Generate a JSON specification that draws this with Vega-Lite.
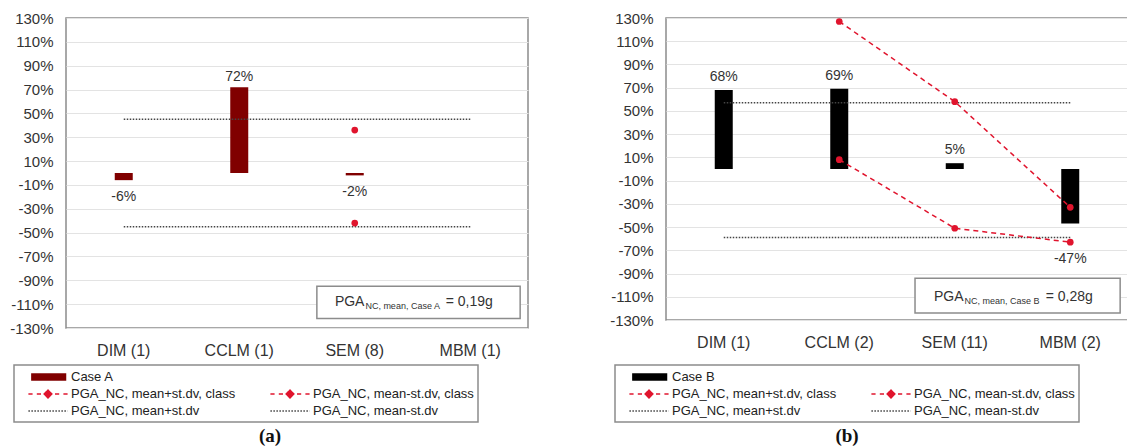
{
  "$schema": "https://vega.github.io/schema/vega-lite/v6.json",
  "background": "white",
  "padding": {"left": 8, "top": 10, "right": 0, "bottom": 0},
  "config": {
    "font": "Liberation Sans",
    "view": {"stroke": "#8c8c8c", "strokeWidth": 1.5},
    "axisX": {"labelFontSize": 16, "labelColor": "#333", "ticks": false, "domain": false, "labelPadding": 14, "title": null, "labelAngle": 0, "grid": false},
    "axisY": {"labelFontSize": 15, "labelColor": "#333", "ticks": false, "domain": false, "labelPadding": 13, "title": null, "grid": true, "gridColor": "#e3e3e3", "gridWidth": 1, "labelOverlap": false, "labelFlush": false, "tickCount": 30}
  },
  "datasets": {
    "bars_a": [
      {"cat": "DIM (1)", "value": -6, "series": "Case A"},
      {"cat": "CCLM (1)", "value": 72, "series": "Case A"},
      {"cat": "SEM (8)", "value": -2, "series": "Case A"}
    ],
    "lines_a": [
      {"cat": "DIM (1)", "value": 45, "series": "PGA_NC, mean+st.dv"},
      {"cat": "MBM (1)", "value": 45, "series": "PGA_NC, mean+st.dv"},
      {"cat": "DIM (1)", "value": -45, "series": "PGA_NC, mean-st.dv"},
      {"cat": "MBM (1)", "value": -45, "series": "PGA_NC, mean-st.dv"}
    ],
    "class_a": [
      {"cat": "SEM (8)", "value": 36, "series": "PGA_NC, mean+st.dv, class"},
      {"cat": "SEM (8)", "value": -42, "series": "PGA_NC, mean-st.dv, class"}
    ],
    "annot_a": [
      {"part": "box", "x0": 0.543, "x1": 0.983, "y0": -95, "y1": -122},
      {"part": "main", "x": 0.582, "y": -108, "t": "PGA"},
      {"part": "sub", "x": 0.648, "y": -108, "t": "NC, mean, Case A"},
      {"part": "main", "x": 0.822, "y": -108, "t": "= 0,19g"}
    ],
    "bars_b": [
      {"cat": "DIM (1)", "value": 68, "series": "Case B"},
      {"cat": "CCLM (2)", "value": 69, "series": "Case B"},
      {"cat": "SEM (11)", "value": 5, "series": "Case B"},
      {"cat": "MBM (2)", "value": -47, "series": "Case B"}
    ],
    "lines_b": [
      {"cat": "DIM (1)", "value": 57, "series": "PGA_NC, mean+st.dv"},
      {"cat": "MBM (2)", "value": 57, "series": "PGA_NC, mean+st.dv"},
      {"cat": "DIM (1)", "value": -59, "series": "PGA_NC, mean-st.dv"},
      {"cat": "MBM (2)", "value": -59, "series": "PGA_NC, mean-st.dv"}
    ],
    "class_b": [
      {"cat": "CCLM (2)", "value": 127, "series": "PGA_NC, mean+st.dv, class"},
      {"cat": "SEM (11)", "value": 58, "series": "PGA_NC, mean+st.dv, class"},
      {"cat": "MBM (2)", "value": -33, "series": "PGA_NC, mean+st.dv, class"},
      {"cat": "CCLM (2)", "value": 8, "series": "PGA_NC, mean-st.dv, class"},
      {"cat": "SEM (11)", "value": -51, "series": "PGA_NC, mean-st.dv, class"},
      {"cat": "MBM (2)", "value": -63, "series": "PGA_NC, mean-st.dv, class"}
    ],
    "annot_b": [
      {"part": "box", "x0": 0.539, "x1": 0.983, "y0": -94, "y1": -124},
      {"part": "main", "x": 0.580, "y": -110, "t": "PGA"},
      {"part": "sub", "x": 0.646, "y": -110, "t": "NC, mean, Case B"},
      {"part": "main", "x": 0.822, "y": -110, "t": "= 0,28g"}
    ]
  },
  "spacing": 79,
  "resolve": {"scale": {"color": "independent", "x": "independent", "y": "independent"}, "legend": {"color": "independent"}},
  "hconcat": [
    {
      "width": 462,
      "height": 310,
      "title": {"text": "(a)", "orient": "bottom", "font": "Liberation Serif", "fontSize": 19, "fontWeight": "bold", "color": "#111", "dx": -27, "offset": 4},
      "resolve": {"scale": {"x": "independent"}},
      "layer": [
        {
          "layer": [
            {
              "data": {"name": "bars_a"},
              "mark": {"type": "bar", "width": 18},
              "encoding": {
                "x": {"field": "cat", "type": "nominal", "sort": null, "scale": {"domain": ["DIM (1)", "CCLM (1)", "SEM (8)", "MBM (1)"], "paddingInner": 0, "paddingOuter": 0}},
                "y": {"field": "value", "type": "quantitative", "scale": {"domain": [-130, 130], "nice": false, "zero": false}, "axis": {"values": [-130, -110, -90, -70, -50, -30, -10, 10, 30, 50, 70, 90, 110, 130], "tickCount": 30, "labelExpr": "datum.value + '%'", "labelOverlap": false, "labelBound": false, "labelFlush": false}},
                "color": {
                  "field": "series", "type": "nominal",
                  "scale": {"domain": ["Case A", " ", "PGA_NC, mean+st.dv, class", "PGA_NC, mean-st.dv, class", "PGA_NC, mean+st.dv", "PGA_NC, mean-st.dv"], "range": ["#800000", "#ffffff", "#e0142d", "#e0142d", "#444444", "#444444"]},
                  "legend": {
                    "title": null, "orient": "none", "legendX": -52, "legendY": 347, "columns": 2, "direction": "horizontal", "gridAlign": "all",
                    "symbolSize": 196, "symbolOffset": 22, "labelFontSize": 13, "labelColor": "#222", "labelOffset": 15, "columnPadding": 24, "rowPadding": 2,
                    "strokeColor": "#888", "padding": 4, "labelLimit": 400,
                    "encode": {
                      "legend": {"update": {"stroke": {"value": "#8c8c8c"}, "strokeWidth": {"value": 1.5}, "fill": {"value": "#ffffff"}}},
                      "symbols": {"update": {
                      "shape": {"signal": "indexof(datum.value,'Case')==0 ? 'M-2.3,-0.42H2.5V0.42H-2.3Z' : indexof(datum.value,'class')>=0 ? 'M-2.8,0H-2.2M-1.6,0H-1M-0.55,0L0,-0.55L0.55,0L0,0.55ZM1,0H1.6M2.2,0H2.8' : datum.value==' ' ? 'M0,0' : 'M-2.8,0H2.8'"},
                      "fill": {"signal": "indexof(datum.value,'Case')==0 ? '#800000' : indexof(datum.value,'class')>=0 ? '#e0142d' : 'transparent'"},
                      "stroke": {"signal": "indexof(datum.value,'Case')==0 ? '#800000' : indexof(datum.value,'class')>=0 ? '#e0142d' : datum.value==' ' ? 'transparent' : '#444444'"},
                      "strokeDash": {"signal": "indexof(datum.value,'Case')<0 && indexof(datum.value,'class')<0 ? [1.5,1.5] : [1,0]"},
                      "strokeWidth": {"value": 1.5},
                      "opacity": {"value": 1}
                    }}}
                  }
                }
              }
            },
            {
              "mark": {"type": "rule", "color": "#888", "strokeWidth": 1.3},
              "encoding": {"y": {"datum": 0, "type": "quantitative"}}
            },
            {
              "data": {"name": "lines_a"},
              "mark": {"type": "line", "strokeDash": [1.5, 1.5], "strokeWidth": 1.5},
              "encoding": {
                "x": {"field": "cat", "type": "nominal"},
                "y": {"field": "value", "type": "quantitative"},
                "color": {"field": "series", "type": "nominal"}
              }
            },
            {
              "data": {"name": "class_a"},
              "mark": {"type": "point", "filled": true, "shape": "circle", "size": 45, "opacity": 1},
              "encoding": {
                "x": {"field": "cat", "type": "nominal"},
                "y": {"field": "value", "type": "quantitative"},
                "color": {"field": "series", "type": "nominal"}
              }
            },
            {
              "data": {"name": "bars_a"},
              "transform": [{"filter": "datum.value >= 0"}, {"calculate": "datum.value + '%'", "as": "lab"}],
              "mark": {"type": "text", "fontSize": 14, "color": "#333", "dy": -10, "baseline": "middle"},
              "encoding": {
                "x": {"field": "cat", "type": "nominal"},
                "y": {"field": "value", "type": "quantitative"},
                "text": {"field": "lab", "type": "nominal"}
              }
            },
            {
              "data": {"name": "bars_a"},
              "transform": [{"filter": "datum.value < 0"}, {"calculate": "datum.value + '%'", "as": "lab"}],
              "mark": {"type": "text", "fontSize": 14, "color": "#333", "dy": 17, "baseline": "middle"},
              "encoding": {
                "x": {"field": "cat", "type": "nominal"},
                "y": {"field": "value", "type": "quantitative"},
                "text": {"field": "lab", "type": "nominal"}
              }
            }
          ]
        },
        {
          "data": {"name": "annot_a"},
          "layer": [
            {
              "transform": [{"filter": "datum.part == 'box'"}],
              "mark": {"type": "rect", "fill": "white", "stroke": "#8c8c8c", "strokeWidth": 1.5},
              "encoding": {
                "x": {"field": "x0", "type": "quantitative", "scale": {"domain": [0, 1]}, "axis": null},
                "x2": {"field": "x1"},
                "y": {"field": "y0", "type": "quantitative"},
                "y2": {"field": "y1"}
              }
            },
            {
              "transform": [{"filter": "datum.part == 'main'"}],
              "mark": {"type": "text", "fontSize": 14, "color": "#333", "align": "left", "baseline": "middle"},
              "encoding": {
                "x": {"field": "x", "type": "quantitative", "scale": {"domain": [0, 1]}, "axis": null},
                "y": {"field": "y", "type": "quantitative"},
                "text": {"field": "t"}
              }
            },
            {
              "transform": [{"filter": "datum.part == 'sub'"}],
              "mark": {"type": "text", "fontSize": 9, "color": "#333", "align": "left", "baseline": "middle", "dy": 4},
              "encoding": {
                "x": {"field": "x", "type": "quantitative", "scale": {"domain": [0, 1]}, "axis": null},
                "y": {"field": "y", "type": "quantitative"},
                "text": {"field": "t"}
              }
            }
          ]
        }
      ]
    },
    {
      "width": 462,
      "height": 302,
      "title": {"text": "(b)", "orient": "bottom", "font": "Liberation Serif", "fontSize": 19, "fontWeight": "bold", "color": "#111", "dx": -50, "offset": 4},
      "resolve": {"scale": {"x": "independent"}},
      "layer": [
        {
          "layer": [
            {
              "data": {"name": "bars_b"},
              "mark": {"type": "bar", "width": 18},
              "encoding": {
                "x": {"field": "cat", "type": "nominal", "sort": null, "scale": {"domain": ["DIM (1)", "CCLM (2)", "SEM (11)", "MBM (2)"], "paddingInner": 0, "paddingOuter": 0}},
                "y": {"field": "value", "type": "quantitative", "scale": {"domain": [-130, 130], "nice": false, "zero": false}, "axis": {"values": [-130, -110, -90, -70, -50, -30, -10, 10, 30, 50, 70, 90, 110, 130], "tickCount": 30, "labelExpr": "datum.value + '%'", "labelOverlap": false, "labelBound": false, "labelFlush": false}},
                "color": {
                  "field": "series", "type": "nominal",
                  "scale": {"domain": ["Case B", " ", "PGA_NC, mean+st.dv, class", "PGA_NC, mean-st.dv, class", "PGA_NC, mean+st.dv", "PGA_NC, mean-st.dv"], "range": ["#000000", "#ffffff", "#e0142d", "#e0142d", "#444444", "#444444"]},
                  "legend": {
                    "title": null, "orient": "none", "legendX": -51, "legendY": 347, "columns": 2, "direction": "horizontal", "gridAlign": "all",
                    "symbolSize": 196, "symbolOffset": 22, "labelFontSize": 13, "labelColor": "#222", "labelOffset": 15, "columnPadding": 24, "rowPadding": 2,
                    "strokeColor": "#888", "padding": 4, "labelLimit": 400,
                    "encode": {
                      "legend": {"update": {"stroke": {"value": "#8c8c8c"}, "strokeWidth": {"value": 1.5}, "fill": {"value": "#ffffff"}}},
                      "symbols": {"update": {
                      "shape": {"signal": "indexof(datum.value,'Case')==0 ? 'M-2.3,-0.42H2.5V0.42H-2.3Z' : indexof(datum.value,'class')>=0 ? 'M-2.8,0H-2.2M-1.6,0H-1M-0.55,0L0,-0.55L0.55,0L0,0.55ZM1,0H1.6M2.2,0H2.8' : datum.value==' ' ? 'M0,0' : 'M-2.8,0H2.8'"},
                      "fill": {"signal": "indexof(datum.value,'Case')==0 ? '#000000' : indexof(datum.value,'class')>=0 ? '#e0142d' : 'transparent'"},
                      "stroke": {"signal": "indexof(datum.value,'Case')==0 ? '#000000' : indexof(datum.value,'class')>=0 ? '#e0142d' : datum.value==' ' ? 'transparent' : '#444444'"},
                      "strokeDash": {"signal": "indexof(datum.value,'Case')<0 && indexof(datum.value,'class')<0 ? [1.5,1.5] : [1,0]"},
                      "strokeWidth": {"value": 1.5},
                      "opacity": {"value": 1}
                    }}}
                  }
                }
              }
            },
            {
              "mark": {"type": "rule", "color": "#888", "strokeWidth": 1.3},
              "encoding": {"y": {"datum": 0, "type": "quantitative"}}
            },
            {
              "data": {"name": "lines_b"},
              "mark": {"type": "line", "strokeDash": [1.5, 1.5], "strokeWidth": 1.5},
              "encoding": {
                "x": {"field": "cat", "type": "nominal"},
                "y": {"field": "value", "type": "quantitative"},
                "color": {"field": "series", "type": "nominal"}
              }
            },
            {
              "data": {"name": "class_b"},
              "mark": {"type": "line", "strokeDash": [5, 4], "strokeWidth": 1.5},
              "encoding": {
                "x": {"field": "cat", "type": "nominal"},
                "y": {"field": "value", "type": "quantitative"},
                "color": {"field": "series", "type": "nominal"}
              }
            },
            {
              "data": {"name": "class_b"},
              "mark": {"type": "point", "filled": true, "shape": "circle", "size": 45, "opacity": 1},
              "encoding": {
                "x": {"field": "cat", "type": "nominal"},
                "y": {"field": "value", "type": "quantitative"},
                "color": {"field": "series", "type": "nominal"}
              }
            },
            {
              "data": {"name": "bars_b"},
              "transform": [{"filter": "datum.value >= 0"}, {"calculate": "datum.value + '%'", "as": "lab"}],
              "mark": {"type": "text", "fontSize": 14, "color": "#333", "dy": -13, "baseline": "middle"},
              "encoding": {
                "x": {"field": "cat", "type": "nominal"},
                "y": {"field": "value", "type": "quantitative"},
                "text": {"field": "lab", "type": "nominal"}
              }
            },
            {
              "data": {"name": "bars_b"},
              "transform": [{"filter": "datum.value < 0"}, {"calculate": "datum.value + '%'", "as": "lab"}],
              "mark": {"type": "text", "fontSize": 14, "color": "#333", "dy": 35, "baseline": "middle"},
              "encoding": {
                "x": {"field": "cat", "type": "nominal"},
                "y": {"field": "value", "type": "quantitative"},
                "text": {"field": "lab", "type": "nominal"}
              }
            }
          ]
        },
        {
          "data": {"name": "annot_b"},
          "layer": [
            {
              "transform": [{"filter": "datum.part == 'box'"}],
              "mark": {"type": "rect", "fill": "white", "stroke": "#8c8c8c", "strokeWidth": 1.5},
              "encoding": {
                "x": {"field": "x0", "type": "quantitative", "scale": {"domain": [0, 1]}, "axis": null},
                "x2": {"field": "x1"},
                "y": {"field": "y0", "type": "quantitative"},
                "y2": {"field": "y1"}
              }
            },
            {
              "transform": [{"filter": "datum.part == 'main'"}],
              "mark": {"type": "text", "fontSize": 14, "color": "#333", "align": "left", "baseline": "middle"},
              "encoding": {
                "x": {"field": "x", "type": "quantitative", "scale": {"domain": [0, 1]}, "axis": null},
                "y": {"field": "y", "type": "quantitative"},
                "text": {"field": "t"}
              }
            },
            {
              "transform": [{"filter": "datum.part == 'sub'"}],
              "mark": {"type": "text", "fontSize": 9, "color": "#333", "align": "left", "baseline": "middle", "dy": 4},
              "encoding": {
                "x": {"field": "x", "type": "quantitative", "scale": {"domain": [0, 1]}, "axis": null},
                "y": {"field": "y", "type": "quantitative"},
                "text": {"field": "t"}
              }
            }
          ]
        }
      ]
    }
  ]
}
